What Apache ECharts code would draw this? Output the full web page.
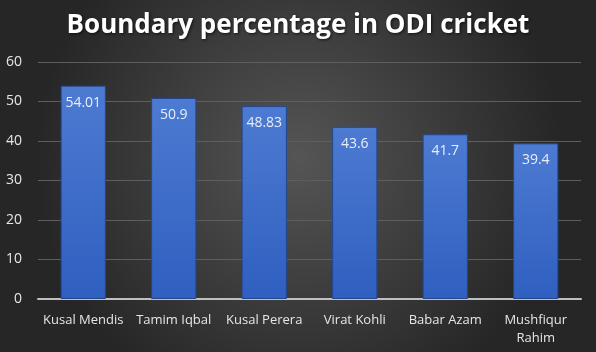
<!DOCTYPE html>
<html><head><meta charset="utf-8">
<script src="https://cdn.jsdelivr.net/npm/echarts@6/dist/echarts.min.js"></script>
<style>html,body{margin:0;padding:0;background:#333}#c{width:596px;height:352px}</style>
</head><body><div id="c"></div>
<script>
const categories = ["Kusal Mendis", "Tamim Iqbal", "Kusal Perera", "Virat Kohli", "Babar Azam", "Mushfiqur\nRahim"];
const values = [54.01, 50.9, 48.83, 43.6, 41.7, 39.4];
const titleText = "Boundary percentage in ODI cricket";

const chart = echarts.init(document.getElementById('c'));
chart.setOption({
  animation: false,
  backgroundColor: {
    type: 'radial', x: 0.5, y: 0.45, r: 0.75,
    colorStops: [{offset: 0, color: '#555555'}, {offset: 1, color: '#262626'}]
  },
  title: {
    text: titleText, left: 'center', top: 8,
    textStyle: {color: '#ffffff', fontSize: 26, fontWeight: 'bold', fontFamily: 'Open Sans',
      textShadowColor: 'rgba(0,0,0,0.7)', textShadowBlur: 3, textShadowOffsetX: 1, textShadowOffsetY: 1}
  },
  grid: {left: 38, right: 15, top: 62, bottom: 53, containLabel: false},
  xAxis: {
    type: 'category', data: categories,
    axisLine: {lineStyle: {color: '#bfbfbf', width: 2}},
    axisTick: {show: false},
    axisLabel: {color: '#e6e6e6', fontSize: 13, fontFamily: 'Open Sans', margin: 12, interval: 0, lineHeight: 18}
  },
  yAxis: {
    type: 'value', min: 0, max: 60, interval: 10,
    axisLine: {show: false}, axisTick: {show: false},
    axisLabel: {color: '#e6e6e6', fontSize: 14, fontFamily: 'Open Sans', margin: 16},
    splitLine: {lineStyle: {color: '#5e5e5e', width: 1}}
  },
  series: [{
    type: 'bar', data: values, barWidth: '50%',
    itemStyle: {
      color: {type: 'linear', x: 0, y: 0, x2: 0, y2: 1,
        colorStops: [{offset: 0, color: '#4d7bd2'}, {offset: 1, color: '#2f5fc0'}]},
      borderColor: '#24468f', borderWidth: 1
    },
    label: {show: true, position: 'insideTop', distance: 10, color: '#e8eef8', fontSize: 14, fontFamily: 'Open Sans'}
  }]
});
</script></body></html>
